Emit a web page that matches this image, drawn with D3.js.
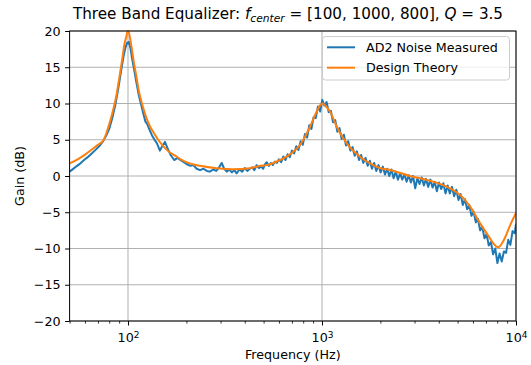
<!DOCTYPE html>
<html><head><meta charset="utf-8">
<script src="https://cdn.jsdelivr.net/npm/d3@7"></script>
<style>body{margin:0;background:#fff} svg{display:block} text{font-family:"DejaVu Sans",sans-serif;white-space:pre}</style>
</head><body>
<svg id="chart" width="531" height="365"></svg>
<script>
// ---- data ----
const theoryFreq = [50,55,60,65,70,75,78,81,84,87,90,93,96,98,99,100,101,102,104,107,110,114,118,123,130,137,143,150,160,175,190,210,235,286,348,425,480,519,584,650,711,760,801,867,939,980,1008,1040,1099,1191,1341,1570,1837,1985,2241,2842,3603,4568,5142,5795,6523,7345,7700,8000,8200,8438,8800,9126,9550,10000];
const theoryGain = [1.75,2.3,2.95,3.65,4.3,5.0,6.2,7.6,9.2,11.0,13.4,15.8,18.3,19.2,19.8,20.0,19.8,19.3,18.0,15.8,14.0,11.6,10.0,8.4,6.8,5.8,5.0,4.3,3.5,2.8,2.2,1.7,1.4,1.06,0.92,1.06,1.4,1.5,2.0,2.6,3.35,4.1,5.0,6.8,8.9,9.8,10.0,9.7,8.9,6.8,4.5,2.66,1.5,1.1,0.83,0.0,-0.65,-1.7,-2.6,-4.2,-6.5,-8.6,-9.4,-9.8,-9.75,-9.35,-8.45,-7.4,-6.2,-5.1];

const measFreq = [50,52,54,56,58,60,62,65,68,71,74,77,80,83,86,89,92,95,97,99,
 100,101,103,105,108,111,114,117,120,123,126,129,133,137,141,146,150,155,160,166,
 173,180,187,194,200,210,217,226,235,245,255,264,275,285,295,304,313,323,333,343,
 353,363,375,388,400,412,425,437,448,460,472,486,498,508,519,532,545,558,572,585,
 600,616,632,648,665,682,700,718,737,756,776,796,817,838,860,882,905,929,953,978,
 1003,1029,1056,1083,1111,1140,1170,1200,1231,1263,1296,1330,1365,1400,1437,1474,1512,1552,1592,1633,
 1676,1719,1764,1810,1857,1905,1955,2005,2058,2111,2166,2222,2280,2339,2400,2463,2527,2592,2660,2729,
 2800,2873,2947,3024,3103,3183,3266,3351,3438,3527,3619,3713,3810,3909,4010,4115,4222,4331,4444,4560,
 4678,4800,4925,5053,5184,5319,5457,5599,5745,5894,6047,6205,6366,6532,6701,6876,7054,7238,7426,7619,
 7817,8020,8229,8443,8663,8888,9119,9356,9599,9849,10000];
const measGain = [0.6,0.95,1.3,1.6,1.95,2.3,2.6,3.1,3.6,4.1,4.7,5.5,6.5,8.0,9.8,12.0,14.4,16.6,17.7,18.4,
 18.3,18.5,17.6,16.2,14.4,12.6,11.0,9.8,8.6,7.5,7.1,6.4,5.6,5.0,4.5,3.5,4.1,4.7,3.8,2.9,
 2.2,2.5,2.2,1.9,1.65,1.4,1.5,1.0,0.8,1.0,0.7,0.6,0.9,0.7,1.2,1.8,1.0,0.6,0.9,0.5,
 0.8,0.37,0.9,0.6,1.1,0.7,1.0,1.2,0.8,1.5,1.1,1.3,1.0,1.6,1.9,1.4,1.8,1.5,2.0,1.8,
 2.3,1.9,2.7,2.2,3.0,2.6,3.5,3.1,4.1,3.6,4.8,4.3,5.8,5.3,7.0,6.5,8.1,8.0,9.6,8.9,
 10.5,9.7,10.2,8.8,9.0,7.4,7.7,6.1,6.6,5.1,5.7,4.2,4.8,3.5,4.0,2.8,3.4,2.2,2.9,1.8,
 2.5,1.4,2.1,1.0,1.8,0.7,1.5,0.5,1.3,0.2,1.0,0.0,0.9,-0.3,0.6,-0.5,0.4,-0.5,0.2,-0.8,
 0.1,-0.9,0.0,-1.7,-0.3,-1.1,-0.2,-1.3,-0.4,-1.5,-0.5,-1.6,-0.8,-2.1,-0.9,-1.8,-1.0,-2.4,-1.3,-2.4,
 -1.5,-2.8,-1.9,-3.3,-2.5,-4.0,-3.2,-4.6,-4.0,-5.5,-4.9,-6.4,-5.9,-7.5,-7.0,-8.6,-8.0,-9.6,-9.1,-10.8,
 -10.0,-12.0,-10.7,-11.8,-10.4,-10.6,-8.8,-9.5,-7.6,-7.9,-6.6];

const yTicks = [-20,-15,-10,-5,0,5,10,15,20];
const xMajor = [100,1000,10000];
const xMajorExp = ["2","3","4"];
const xMinor = [50,60,70,80,90,200,300,400,500,600,700,800,900,2000,3000,4000,5000,6000,7000,8000,9000];
const seriesNames = ["AD2 Noise Measured","Design Theory"];
const colors = ["#1f77b4","#ff7f0e"];

// ---- drawing ----
const W=531,H=365,L=69.6,R=516,T=31,B=321;
const FS=12.7;
const LW=2;
const svg=d3.select("#chart");
svg.append("rect").attr("width",W).attr("height",H).attr("fill","#fff");
const x=d3.scaleLog().domain([50,10000]).range([L,R]);
const y=d3.scaleLinear().domain([-20,20]).range([B,T]);

svg.append("defs").append("clipPath").attr("id","clip").append("rect")
  .attr("x",L).attr("y",T-1).attr("width",R-L).attr("height",B-T+2);

// grid
svg.append("g").selectAll("line").data(yTicks).join("line")
  .attr("x1",L).attr("x2",R).attr("y1",d=>y(d)).attr("y2",d=>y(d))
  .attr("stroke","#b0b0b0").attr("stroke-width",1);
svg.append("g").selectAll("line").data(xMajor).join("line")
  .attr("x1",d=>x(d)).attr("x2",d=>x(d)).attr("y1",T).attr("y2",B)
  .attr("stroke","#b0b0b0").attr("stroke-width",1);

// lines
const meas = measFreq.map((f,i)=>[f,measGain[i]]);
const theo = theoryFreq.map((f,i)=>[f,theoryGain[i]]);
const lineLin=d3.line().x(d=>x(d[0])).y(d=>y(d[1]));
const lineSm=d3.line().x(d=>x(d[0])).y(d=>y(d[1])).curve(d3.curveMonotoneX);
const plot=svg.append("g").attr("clip-path","url(#clip)");
plot.append("path").datum(meas).attr("d",lineLin).attr("fill","none")
  .attr("stroke",colors[0]).attr("stroke-width",LW).attr("stroke-linejoin","round");
plot.append("path").datum(theo).attr("d",lineSm).attr("fill","none")
  .attr("stroke",colors[1]).attr("stroke-width",LW).attr("stroke-linejoin","round");

// axes
function styleAxis(g){
  g.select(".domain").remove();
  g.selectAll(".tick line").attr("stroke","#000").attr("stroke-width",1);
  g.selectAll(".tick text").attr("fill","#000").attr("font-size",FS+"px").attr("font-family","DejaVu Sans");
}
const yAx=svg.append("g").attr("transform",`translate(${L},0)`)
  .call(d3.axisLeft(y).tickValues(yTicks).tickSize(4.5).tickPadding(4.5)
    .tickFormat(d=>d<0?"\u2212"+Math.abs(d):String(d)));
styleAxis(yAx);
const xAx=svg.append("g").attr("transform",`translate(0,${B})`)
  .call(d3.axisBottom(x).tickValues(xMajor).tickSize(4.5).tickPadding(7).tickFormat(()=>"" ));
styleAxis(xAx);
xAx.selectAll(".tick text").each(function(d,i){
  const t=d3.select(this);
  t.append("tspan").text("10");
  t.append("tspan").attr("dy","-0.42em").attr("font-size","9px").text(xMajorExp[i]);
});
const xMin=svg.append("g").attr("transform",`translate(0,${B})`)
  .call(d3.axisBottom(x).tickValues(xMinor).tickSize(2.6).tickFormat(()=>""));
styleAxis(xMin);
xMin.selectAll(".tick line").attr("stroke-width",0.8);

// spines
svg.append("rect").attr("x",L).attr("y",T).attr("width",R-L).attr("height",B-T)
  .attr("fill","none").attr("stroke","#000").attr("stroke-width",1);

// labels
svg.append("text").attr("x",(L+R)/2).attr("y",359).attr("text-anchor","middle")
  .attr("font-size",FS+"px").text("Frequency (Hz)");
svg.append("text").attr("transform",`translate(24,${(T+B)/2}) rotate(-90)`).attr("text-anchor","middle")
  .attr("font-size",FS+"px").text("Gain (dB)");

// title
const title=svg.append("text").attr("x",288).attr("y",19).attr("text-anchor","middle").attr("font-size","15.2px");
title.append("tspan").text("Three Band Equalizer: ");
title.append("tspan").attr("font-style","italic").text("f");
title.append("tspan").attr("font-style","italic").attr("font-size","10.7px").attr("dy",3).text("center");
title.append("tspan").attr("dy",-3).text(" = [100, 1000, 800], ");
title.append("tspan").attr("font-style","italic").text("Q");
title.append("tspan").text(" = 3.5");

// legend
const lg=svg.append("g");
lg.append("rect").attr("x",322.5).attr("y",36.5).attr("width",187).attr("height",43.5).attr("rx",3)
  .attr("fill","#fff").attr("fill-opacity",0.8).attr("stroke","#cccccc").attr("stroke-width",1);
seriesNames.forEach((n,i)=>{
  const yy=47.3+i*20.4;
  lg.append("line").attr("x1",327).attr("x2",355).attr("y1",yy).attr("y2",yy)
    .attr("stroke",colors[i]).attr("stroke-width",LW);
  lg.append("text").attr("x",366).attr("y",yy+4.5).attr("font-size",FS+"px").text(n);
});
</script>
</body></html>
